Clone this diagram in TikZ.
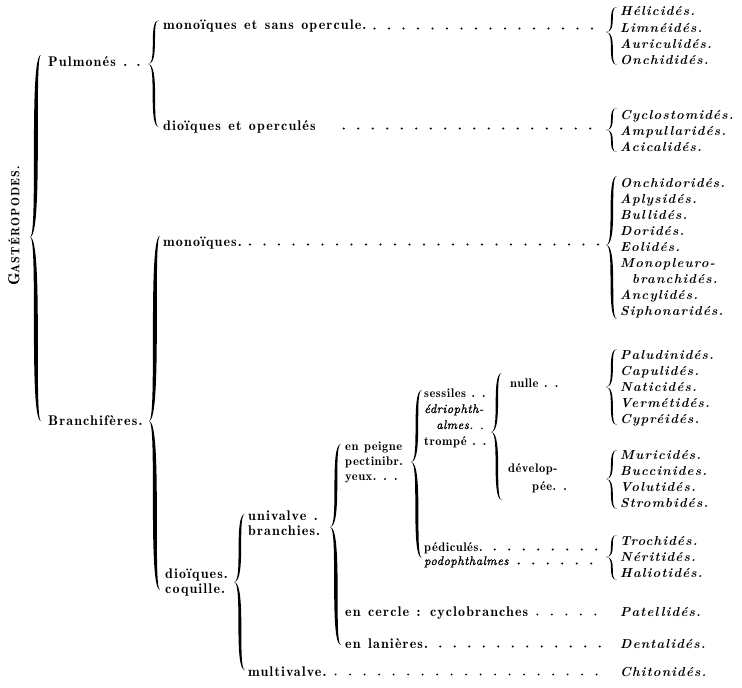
\documentclass[tikz,border=0pt]{standalone}
\usepackage{fontspec}
\setmainfont{lmroman10}[Extension=.otf,UprightFont=*-regular,BoldFont=*-bold,ItalicFont=*-italic,BoldItalicFont=*-bolditalic]
\newfontfamily\demifam{lmromandemi10}[Extension=.otf,UprightFont=*-regular,LetterSpace=8,WordSpace=1.3]
\newfontfamily\demismall{lmromandemi10}[Extension=.otf,UprightFont=*-regular,LetterSpace=4,WordSpace=1.2]
\newfontfamily\demiroot{lmromandemi10}[Extension=.otf,UprightFont=*-regular,LetterSpace=10]
\newfontfamily\itsmall{lmroman10}[Extension=.otf,UprightFont=*-italic,FakeBold=1.2,LetterSpace=4]
\newcommand\labfont{\fontsize{14}{16}\demifam}
\newcommand\smlabfont{\fontsize{12.5}{14}\demismall}
\newcommand\smitfont{\fontsize{12.5}{14}\itsmall}
\newcommand\famfont{\fontsize{13}{15}\selectfont\bfseries\itshape\addfontfeatures{LetterSpace=9}}
% curly brace: #1 spine x, #2 top y, #3 cusp y, #4 bottom y, #5 +1 for {, -1 for }
\newcommand\cbrace[5]{%
  \pgfmathsetmacro\brX{#1}%
  \pgfmathsetmacro\brT{#2}%
  \pgfmathsetmacro\brM{#3}%
  \pgfmathsetmacro\brB{#4}%
  \pgfmathsetmacro\brS{#5}%
  \pgfmathsetmacro\brWa{min(2.6,0.9+0.012*(#3-#2))}%
  \pgfmathsetmacro\brWb{min(2.6,0.9+0.012*(#4-#3))}%
  \fill[bracefill]
   ({\brX+\brS*5},\brT)
   .. controls ({\brX-\brS*(5+\brWa)},\brT) and ({\brX+\brS*(5-\brWa)},\brM) .. ({\brX-\brS*6},\brM)
   .. controls ({\brX+\brS*(5-\brWb)},\brM) and ({\brX-\brS*(5+\brWb)},\brB) .. ({\brX+\brS*5},\brB)
   .. controls ({\brX-\brS*(5-\brWb)},\brB) and ({\brX+\brS*(5+\brWb)},\brM) .. ({\brX-\brS*6},\brM)
   .. controls ({\brX+\brS*(5+\brWa)},\brM) and ({\brX-\brS*(5-\brWa)},\brT) .. cycle;
}
\begin{document}
\begin{tikzpicture}[x=1pt,y=-1pt,
  lab/.style={anchor=base west,inner sep=0pt,font=\labfont},
  smlab/.style={anchor=base west,inner sep=0pt,font=\smlabfont},
  smit/.style={anchor=base west,inner sep=0pt,font=\smitfont},
  fam/.style={anchor=base west,inner sep=0pt,font=\famfont},
  leader/.style={draw=black,line width=2.2pt,line cap=round,dash pattern=on 0pt off 14.5pt},
  bracefill/.style={fill=black}]
\fill[white] (0,0) rectangle (742,688);
\useasboundingbox (0,0) rectangle (742,688);

% root
\node[rotate=90,inner sep=0pt,font=\demiroot] (gast) at (14,226)
  {{\fontsize{16}{16}\selectfont G}{\fontsize{12}{12}\selectfont ASTÉROPODES.}};
\cbrace{36}{55}{237}{421}{1}

% Pulmones
\node[lab] (pulm) at (48,66) {Pulmonés . .};
\cbrace{154}{20}{64}{127}{1}
\node[lab] (r1) at (163,30) {monoïques et sans opercule.};
\node[lab] (r2) at (163,130) {dioïques et operculés};

\cbrace{612}{7}{32}{65}{1}
\node[fam] (a1) at (620,16) {Hélicidés.};
\node[fam] (a2) at (620,32) {Limnéidés.};
\node[fam] (a3) at (620,48) {Auriculidés.};
\node[fam] (a4) at (620,64) {Onchididés.};
\coordinate (eA) at (603,28.5);
\draw[leader] ([shift={(8pt,1.5pt)}]r1.base east) -- (eA);

\cbrace{612}{108}{130}{152}{1}
\node[fam] (b1) at (620,119) {Cyclostomidés.};
\node[fam] (b2) at (620,135) {Ampullaridés.};
\node[fam] (b3) at (620,151) {Acicalidés.};
\coordinate (eB) at (603,128.5);
\draw[leader] ([shift={(28pt,1.5pt)}]r2.base east) -- (eB);

% Branchiferes
\node[lab] (branch) at (48,425) {Branchifères.};
\cbrace{155}{236}{421}{590}{1}
\node[lab] (r3) at (163,246) {monoïques.};
\cbrace{612}{176}{245}{319}{1}
\node[fam] (c1) at (620,187) {Onchidoridés.};
\node[fam] (c2) at (620,203) {Aplysidés.};
\node[fam] (c3) at (620,219) {Bullidés.};
\node[fam] (c4) at (620,235) {Doridés.};
\node[fam] (c5) at (620,251) {Eolidés.};
\node[fam] (c6) at (620,267) {Monopleuro-};
\node[fam] (c7) at (632,283) {branchidés.};
\node[fam] (c8) at (620,299) {Ancylidés.};
\node[fam] (c9) at (620,315) {Siphonaridés.};
\coordinate (eC) at (603,244.5);
\draw[leader] ([shift={(8pt,1.5pt)}]r3.base east) -- (eC);

% dioiques coquille
\node[lab] (dio) at (165,578) {dioïques.};
\node[lab] (coq) at (165,593) {coquille.};
\cbrace{240}{514}{582}{670}{1}
\node[lab] (uni) at (248,520) {univalve .};
\node[lab] (bra) at (248,535) {branchies.};
\node[lab] (multi) at (248,676) {multivalve.};
\node[fam] (chit) at (620,676) {Chitonidés.};
\draw[leader] ([shift={(9pt,1.5pt)}]multi.base east) -- ([shift={(-12pt,1.5pt)}]chit.base west);

% univalve branchies
\cbrace{336}{444}{527}{645}{1}
\node[smlab] (peig) at (345,450) {en peigne};
\node[smlab] (pect) at (345,465) {pectinibr.};
\node[smlab] (yeux) at (345,480) {yeux. . .};
\node[lab] (cerc) at (345,616) {en cercle : cyclobranches};
\node[fam] (pat) at (620,616) {Patellidés.};
\draw[leader] ([shift={(9pt,1.5pt)}]cerc.base east) -- ([shift={(-12pt,1.5pt)}]pat.base west);
\node[lab] (lan) at (345,648) {en lanières.};
\node[fam] (dent) at (620,648) {Dentalidés.};
\draw[leader] ([shift={(12pt,1.5pt)}]lan.base east) -- ([shift={(-12pt,1.5pt)}]dent.base west);

% en peigne
\cbrace{417}{390}{462}{558}{1}
\node[smlab] (sess) at (424,397) {sessiles . .};
\node[smit] (edr) at (424,413) {édriophth-};
\node[smit] (alm) at (436,429) {almes. .};
\node[smlab] (tromp) at (424,445) {trompé . .};
\node[smlab] (pedi) at (424,551) {pédiculés.};
\node[smit] (podo) at (424,565) {podophthalmes};
\coordinate (eJ1) at (603,549.5);
\coordinate (eJ2) at (603,563.5);
\draw[leader] ([shift={(12pt,1.5pt)}]pedi.base east) -- (eJ1);
\draw[leader] ([shift={(10pt,1.5pt)}]podo.base east) -- (eJ2);

\cbrace{612}{535}{557}{580}{1}
\node[fam] (j1) at (620,545) {Trochidés.};
\node[fam] (j2) at (620,561) {Néritidés.};
\node[fam] (j3) at (620,577) {Haliotidés.};

% sessiles
\cbrace{497}{373}{432}{500}{1}
\node[smlab] (nul) at (510,387) {nulle . .};
\cbrace{612}{349}{387}{425}{1}
\node[fam] (h1) at (620,359) {Paludinidés.};
\node[fam] (h2) at (620,375) {Capulidés.};
\node[fam] (h3) at (620,391) {Naticidés.};
\node[fam] (h4) at (620,407) {Vermétidés.};
\node[fam] (h5) at (620,423) {Cypréidés.};

\node[smlab] (dev) at (508,472) {dévelop-};
\node[smlab] (pee) at (532,490) {pée. .};
\cbrace{612}{450}{479}{509}{1}
\node[fam] (i1) at (620,459) {Muricidés.};
\node[fam] (i2) at (620,475) {Buccinides.};
\node[fam] (i3) at (620,491) {Volutidés.};
\node[fam] (i4) at (620,507) {Strombidés.};
\end{tikzpicture}
\end{document}
